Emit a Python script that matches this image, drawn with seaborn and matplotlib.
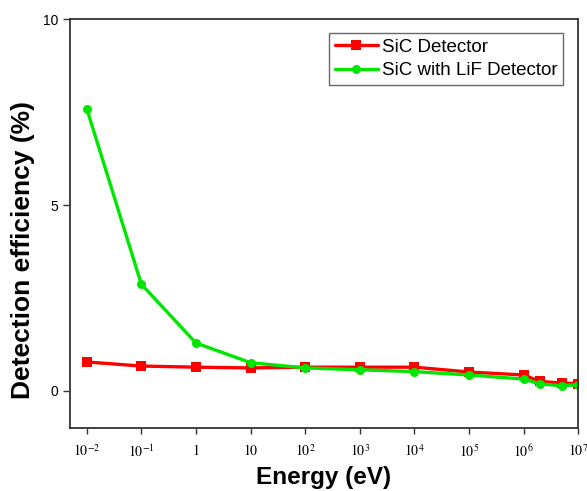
import matplotlib
matplotlib.use("Agg")
import matplotlib.pyplot as plt
import seaborn as sns
import pandas as pd

# energies (eV) and detection efficiencies (%)
energy = [1e-2, 1e-1, 1, 10, 1e2, 1e3, 1e4, 1e5, 1e6, 2e6, 5e6, 1e7]
sic = [0.78, 0.67, 0.64, 0.62, 0.64, 0.64, 0.64, 0.51, 0.43, 0.26, 0.21, 0.20]
sic_lif = [7.59, 2.87, 1.29, 0.76, 0.62, 0.57, 0.52, 0.43, 0.32, 0.19, 0.14, 0.17]

series_names = ["SiC Detector", "SiC with LiF Detector"]
x_ticks = [1e-2, 1e-1, 1, 10, 1e2, 1e3, 1e4, 1e5, 1e6, 1e7]
x_tick_labels = [r"$10^{-2}$", r"$10^{-1}$", r"$1$", r"$10$", r"$10^{2}$",
                 r"$10^{3}$", r"$10^{4}$", r"$10^{5}$", r"$10^{6}$", r"$10^{7}$"]
y_ticks = [0, 5, 10]

df = pd.DataFrame({
    "Energy": energy * 2,
    "Efficiency": sic + sic_lif,
    "Series": [series_names[0]] * len(sic) + [series_names[1]] * len(sic_lif),
})

sns.set_style("ticks")
plt.rcParams["font.family"] = ["Liberation Sans", "DejaVu Sans"]
plt.rcParams["mathtext.fontset"] = "stix"
plt.rcParams["text.color"] = "black"
plt.rcParams["axes.labelcolor"] = "black"
plt.rcParams["xtick.color"] = "#333333"
plt.rcParams["ytick.color"] = "#333333"
plt.rcParams["xtick.labelcolor"] = "black"
plt.rcParams["ytick.labelcolor"] = "black"

fig = plt.figure(figsize=(5.87, 4.91), dpi=100)
ax = fig.add_axes([0.119, 0.128, 0.866, 0.833])

sns.lineplot(data=df, x="Energy", y="Efficiency", hue="Series", style="Series",
             palette={series_names[0]: "#ff0000", series_names[1]: "#00e600"},
             markers={series_names[0]: "s", series_names[1]: "o"},
             dashes=False, linewidth=2.4, markersize=6.5, markeredgewidth=0,
             ax=ax)

ax.set_xscale("log")
ax.set_xlim(10 ** -2.31, 10 ** 7.0)
ax.set_ylim(-1, 10)
ax.set_xticks(x_ticks)
ax.set_xticklabels(x_tick_labels, fontsize=10)
ax.minorticks_off()
ax.set_yticks(y_ticks)
ax.tick_params(axis="y", labelsize=10, direction="out", length=5, width=1)
ax.tick_params(axis="x", direction="out", length=4, width=1, pad=7)

for s in ax.spines.values():
    s.set_linewidth(1.3)
    s.set_color("#333333")

ax.set_xlabel("Energy (eV)", fontsize=17.5, fontweight="bold", labelpad=4)
ax.set_ylabel("Detection efficiency (%)", fontsize=19, fontweight="bold")
ax.yaxis.set_label_coords(-0.068, 0.435)

leg = ax.legend(title=None, loc="upper right", bbox_to_anchor=(0.970, 0.966),
                borderaxespad=0, fontsize=13.5, frameon=True, fancybox=False,
                edgecolor="#444444", handlelength=2.3, borderpad=0.3,
                labelspacing=0.35, handletextpad=0.2)
leg.get_frame().set_linewidth(1.0)

plt.savefig("out.png", dpi=100)
plt.close()
